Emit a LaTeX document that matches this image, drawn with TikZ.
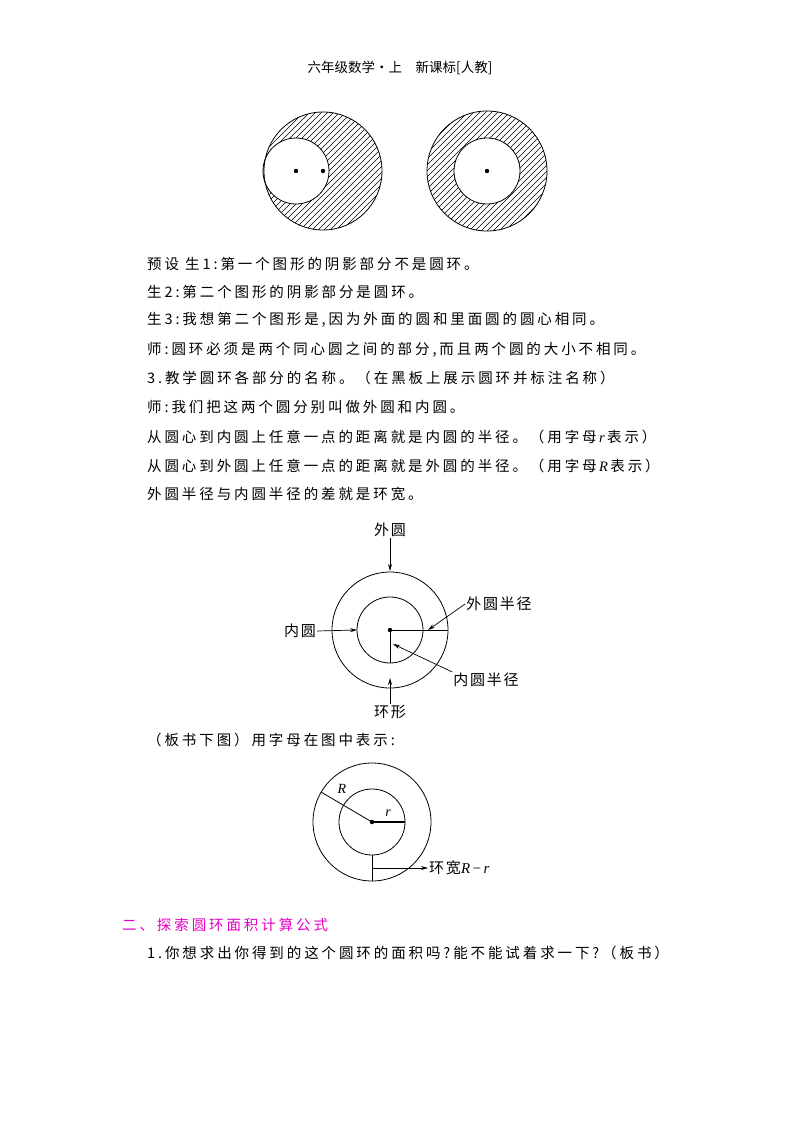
\documentclass[tikz,border=0pt]{standalone}
\usepackage{fontspec}
\setmainfont{Liberation Serif}
\newfontfamily\cjk{Noto Sans CJK SC}
\newfontfamily\cjks[LetterSpace=20]{Noto Sans CJK SC}
\newfontfamily\cjkl[LetterSpace=12]{Noto Sans CJK SC}
\usetikzlibrary{arrows.meta}
\begin{document}
\begin{tikzpicture}[x=1pt,y=-1pt,
  txt/.style={anchor=west,inner sep=0pt,font=\cjks\fontsize{14.5}{15}\selectfont},
  lab/.style={inner sep=1pt,font=\cjkl\fontsize{15}{16}\selectfont},
  ln/.style={line width=0.8pt},
  arr/.style={line width=0.7pt,-{Stealth[length=7pt,width=4pt]}}]
\useasboundingbox (0,0) rectangle (800,1132);
\node[inner sep=0pt,font=\cjk\fontsize{13.5}{14}\selectfont] (hdr) at (400,68) {六年级数学·上\quad 新课标[人教]};
% top circles
\begin{scope}[even odd rule]
\clip (323,171) circle (59) (296,171) circle (33);
\foreach \k in {-132,-126,...,132} \draw[line width=0.5pt] (323+\k-70,241) -- (323+\k+70,101);
\end{scope}
\draw[ln] (323,171) circle (59);
\draw[ln] (296,171) circle (33);
\fill (296,171) circle (2.2) (323,171) circle (2.2);
\begin{scope}[even odd rule]
\clip (487,171) circle (60) (487,171) circle (33);
\foreach \k in {-132,-126,...,132} \draw[line width=0.5pt] (487+\k-70,241) -- (487+\k+70,101);
\end{scope}
\draw[ln] (487,171) circle (60);
\draw[ln] (487,171) circle (33);
\fill (487,171) circle (2.2);
% text lines
\node[txt] (t1) at (147,264) {预设\ 生1:第一个图形的阴影部分不是圆环。};
\node[txt] (t2) at (147,292) {生2:第二个图形的阴影部分是圆环。};
\node[txt] (t3) at (147,320) {生3:我想第二个图形是,因为外面的圆和里面圆的圆心相同。};
\node[txt] (t4) at (147,350) {师:圆环必须是两个同心圆之间的部分,而且两个圆的大小不相同。};
\node[txt] (t5) at (147,378) {3.教学圆环各部分的名称。（在黑板上展示圆环并标注名称）};
\node[txt] (t6) at (147,407) {师:我们把这两个圆分别叫做外圆和内圆。};
\node[txt] (t7) at (147,437) {从圆心到内圆上任意一点的距离就是内圆的半径。（用字母\,{\rmfamily\itshape r}\,表示）};
\node[txt] (t8) at (147,466) {从圆心到外圆上任意一点的距离就是外圆的半径。（用字母\,{\rmfamily\itshape R}\,表示）};
\node[txt] (t9) at (147,494) {外圆半径与内圆半径的差就是环宽。};
% diagram 2
\coordinate (c2) at (390,630);
\draw[ln] (c2) circle (58);
\draw[ln] (c2) circle (33);
\fill (c2) circle (2.2);
\draw[ln] (c2) -- (448,630);
\draw[ln] (c2) -- (390,663);
\node[lab] (wy) at (390,530) {外圆};
\coordinate (wyt) at (390,571);
\draw[arr] (wy.south) -- (wyt);
\node[lab] (hx) at (390,712) {环形};
\coordinate (hxt) at (390,678);
\draw[arr] (hx.north) -- (hxt);
\node[lab] (ny) at (300,631) {内圆};
\coordinate (nyt) at (357,630);
\draw[arr] (ny.east) -- (nyt);
\node[lab] (wr) at (499,604) {外圆半径};
\coordinate (wrt) at (428,630);
\draw[arr] (wr.west) -- (wrt);
\node[lab] (nr) at (486,680) {内圆半径};
\coordinate (nrt) at (393,644);
\draw[arr] (nr.north west) -- (nrt);
\node[txt] (t10) at (147,740) {（板书下图）用字母在图中表示:};
% diagram 3
\coordinate (c3) at (372,822);
\draw[ln] (c3) circle (59);
\draw[ln] (c3) circle (33);
\fill (c3) circle (2.2);
\coordinate (Re) at (321,792);
\draw[ln] (c3) -- (Re);
\coordinate (re) at (405,822);
\draw[line width=1.1pt] (c3) -- (re);
\node[inner sep=0pt,font=\fontsize{14}{16}\selectfont\itshape] (Rl) at (342,789) {R};
\node[inner sep=0pt,font=\fontsize{14}{16}\selectfont\itshape] (rl) at (388,813) {r};
\coordinate (va) at (372,855);
\coordinate (vb) at (372,881);
\draw[line width=1pt] (va) -- (vb);
\coordinate (ha) at (372,868);
\node[lab,anchor=west] (hk) at (428,868) {环宽{\rmfamily\itshape R}{\rmfamily\,−\,}{\rmfamily\itshape r}};
\draw[arr] (ha) -- (hk.west);
\node[txt,text={rgb,255:red,230;green,0;blue,200}] (s2) at (122,925) {二、探索圆环面积计算公式};
\node[txt] (t11) at (147,953) {1.你想求出你得到的这个圆环的面积吗?能不能试着求一下?（板书）};
\end{tikzpicture}
\end{document}
